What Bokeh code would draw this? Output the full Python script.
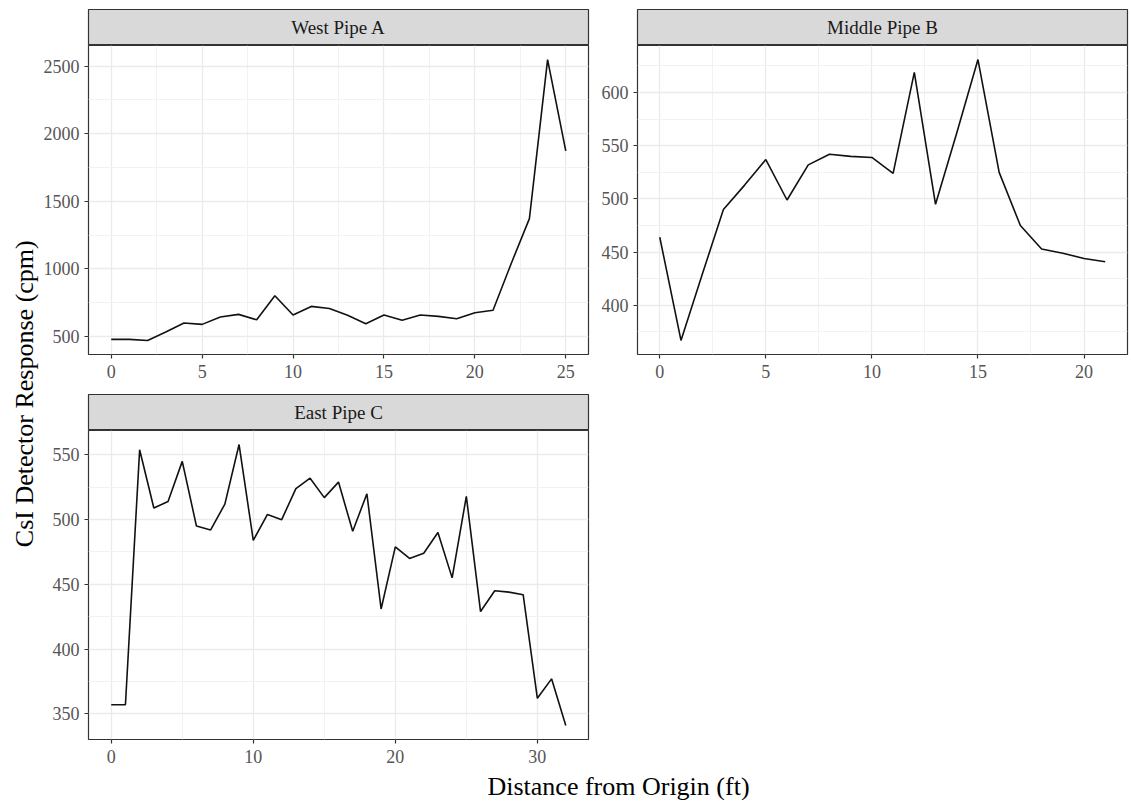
import math
from bokeh.plotting import figure
from bokeh.layouts import row, column
from bokeh.models import Range1d, FixedTicker
from bokeh.embed import file_html
from bokeh.resources import INLINE
from bokeh.core.properties import value

FONT = "Liberation Serif"

# ---------------- data ----------------
panel_names = ["West Pipe A", "Middle Pipe B", "East Pipe C"]
x_title = "Distance from Origin (ft)"
y_title = "CsI Detector Response (cpm)"

dist_a = list(range(26))
cpm_a = [478, 478, 470, 532, 599, 589, 643, 663, 623, 801, 658, 722, 707,
         656, 594, 658, 619, 658, 648, 631, 675, 693, 1040, 1372, 2549, 1873]

dist_b = list(range(22))
cpm_b = [464, 367, 429, 490, 513, 537, 499, 532, 542, 540, 539, 524, 619,
         495, 562, 631, 525, 475, 453, 449, 444, 441]

dist_c = list(range(33))
cpm_c = [357, 357, 554, 509, 514, 545, 495, 492, 512, 558, 484, 504, 500,
         524, 532, 517, 529, 491, 520, 431, 479, 470, 474, 490, 455, 518,
         429, 445, 444, 442, 362, 377, 341]

x_ticks_a = [0, 5, 10, 15, 20, 25]
x_minor_a = [2.5, 7.5, 12.5, 17.5, 22.5]
y_ticks_a = [500, 1000, 1500, 2000, 2500]
y_minor_a = [750, 1250, 1750, 2250]

x_ticks_b = [0, 5, 10, 15, 20]
x_minor_b = [2.5, 7.5, 12.5, 17.5]
y_ticks_b = [400, 450, 500, 550, 600]
y_minor_b = [375, 425, 475, 525, 575, 625]

x_ticks_c = [0, 10, 20, 30]
x_minor_c = [5, 15, 25]
y_ticks_c = [350, 400, 450, 500, 550]
y_minor_c = [375, 425, 475, 525]

# ---------------- helpers ----------------
def expanded(vals, mult=0.05):
    lo, hi = min(vals), max(vals)
    pad = (hi - lo) * mult
    return Range1d(lo - pad, hi + pad)


def strip(name, fw, bl, br, top):
    s = figure(frame_width=fw, frame_height=36, min_border_left=bl,
               min_border_right=br, min_border_top=top, min_border_bottom=0,
               x_range=Range1d(0, 1), y_range=Range1d(0, 1),
               x_axis_type=None, y_axis_type=None,
               background_fill_color="#D9D9D9", border_fill_color="white",
               outline_line_color="#333333", outline_line_width=1.2,
               output_backend="svg", toolbar_location=None)
    s.text(x=[0.5], y=[0.5], text=[name], text_align="center",
           text_baseline="middle", text_font=value(FONT),
           text_font_size="19px", text_color="#1A1A1A")
    return s


def panel(xs, ys, xt, xm, yt, ym, fw, bl, br, bb):
    p = figure(frame_width=fw, frame_height=309, min_border_left=bl,
               min_border_right=br, min_border_top=0, min_border_bottom=bb,
               x_range=expanded(xs), y_range=expanded(ys),
               background_fill_color="white", border_fill_color="white",
               outline_line_color="#333333", outline_line_width=1.2,
               output_backend="svg", toolbar_location=None)
    p.line(xs, ys, line_color="#111111", line_width=1.6)
    p.xaxis.ticker = FixedTicker(ticks=xt, minor_ticks=xm)
    p.yaxis.ticker = FixedTicker(ticks=yt, minor_ticks=ym)
    for ax in (p.xaxis, p.yaxis):
        ax.axis_line_color = None
        ax.major_tick_in = 0
        ax.major_tick_out = 4
        ax.minor_tick_in = 0
        ax.minor_tick_out = 0
        ax.major_tick_line_color = "#333333"
        ax.major_tick_line_width = 1.2
        ax.major_label_text_font = FONT
        ax.major_label_text_font_size = "18px"
        ax.major_label_text_color = "#555555"
    p.xaxis.major_label_standoff = 6
    p.yaxis.major_label_standoff = 5
    for g in (p.xgrid, p.ygrid):
        g.grid_line_color = "#EBEBEB"
        g.grid_line_width = 1.3
        g.minor_grid_line_color = "#F2F2F2"
        g.minor_grid_line_width = 1.0
    return p


# ---------------- panels ----------------
strip_a = strip(panel_names[0], 500, 48, 10, 9)
panel_a = panel(dist_a, cpm_a, x_ticks_a, x_minor_a, y_ticks_a, y_minor_a,
                500, 48, 10, 40)

strip_b = strip(panel_names[1], 490, 39, 2, 9)
panel_b = panel(dist_b, cpm_b, x_ticks_b, x_minor_b, y_ticks_b, y_minor_b,
                490, 39, 2, 40)

strip_c = strip(panel_names[2], 500, 48, 10, 0)
panel_c = panel(dist_c, cpm_c, x_ticks_c, x_minor_c, y_ticks_c, y_minor_c,
                500, 48, 10, 32)

# ---------------- titles ----------------
ytitle = figure(width=40, height=771, min_border=0,
                x_range=Range1d(0, 1), y_range=Range1d(0, 1),
                x_axis_type=None, y_axis_type=None, outline_line_color=None,
                output_backend="svg", toolbar_location=None)
ytitle.text(x=[0.6], y=[0.49], text=[y_title], angle=math.pi / 2,
            text_align="center", text_baseline="middle",
            text_font=value(FONT), text_font_size="26px", text_color="black")

xtitle = figure(width=1129, height=29, min_border=0, min_border_left=107,
                x_range=Range1d(0, 1), y_range=Range1d(0, 1),
                x_axis_type=None, y_axis_type=None, outline_line_color=None,
                output_backend="svg", toolbar_location=None)
xtitle.text(x=[0.5], y=[0.5], text=[x_title], text_align="center",
            text_baseline="middle", text_font=value(FONT),
            text_font_size="26px", text_color="black")

grid = column(row(column(strip_a, panel_a), column(strip_b, panel_b)),
              column(strip_c, panel_c))
layout = column(row(ytitle, grid), xtitle)

open("out.html", "w").write(file_html(layout, INLINE))
